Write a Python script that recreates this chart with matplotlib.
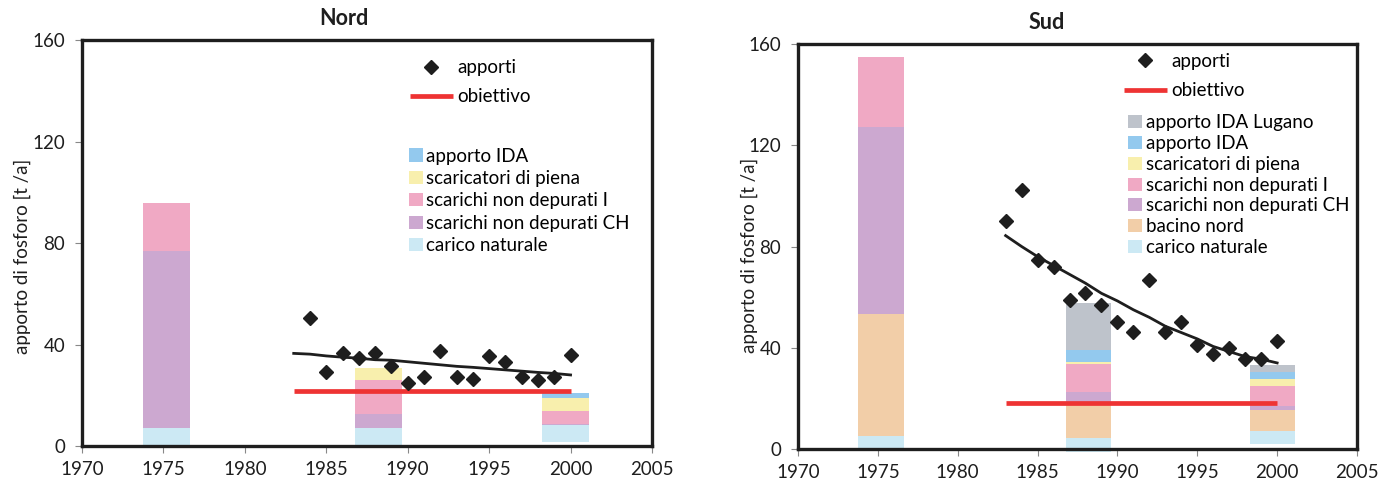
import matplotlib
matplotlib.use("Agg")
import matplotlib.pyplot as plt
from matplotlib.lines import Line2D
from matplotlib.patches import Patch

plt.rcParams["font.family"] = ["Lato", "DejaVu Sans"]

# bar positions (years) shared by both basins
bar_x = [1975.2, 1988.2, 1999.7]
bar_width = 2.85

# Nord basin: stacked loads [t/a], bottom layer first
nord_base = [0, 0, 1.4]
nord_carico_naturale = [7.0, 7.0, 6.7]
nord_ch = [69.7, 5.6, 0.6]
nord_i = [19.0, 13.5, 5.2]
nord_scaricatori = [0, 4.6, 4.9]
nord_ida = [0, 0, 2.0]

# Sud basin: stacked loads [t/a], bottom layer first
sud_base = [0, -1.2, 2.0]
sud_carico_naturale = [5.0, 5.7, 5.2]
sud_bacino_nord = [48.4, 12.9, 8.2]
sud_ch = [73.9, 5.2, 1.7]
sud_i = [27.4, 11.0, 7.8]
sud_scaricatori = [0, 0.9, 2.6]
sud_ida = [0, 4.6, 3.0]
sud_ida_lugano = [0, 18.4, 2.7]

# measured yearly inputs and smoothed trend
years = list(range(1983, 2001))
nord_apporti = [None, 50.3, 29.3, 36.6, 34.6, 36.6, 31.4, 24.8, 27.3, 37.3,
                27.3, 26.6, 35.3, 33.0, 27.3, 26.0, 27.3, 36.0]
nord_trend = [36.5, 36.2, 35.5, 35.0, 34.6, 34.0, 33.8, 33.2, 32.6, 32.0,
              31.4, 31.0, 30.5, 30.0, 29.5, 29.0, 28.6, 28.0]
sud_apporti = [89.9, 102.2, 74.5, 72.0, 58.8, 61.7, 56.9, 50.1, 46.3, 66.8,
               46.3, 50.1, 41.0, 37.7, 40.0, 35.4, 35.4, 42.8]
sud_trend = [84.3, 80.0, 76.0, 72.5, 69.0, 65.5, 61.5, 58.5, 55.0, 52.0,
             48.5, 46.0, 43.5, 40.5, 38.5, 36.5, 35.5, 34.0]

nord_obiettivo = 21.8
sud_obiettivo = 18.0

C_NAT = "#cce9f4"
C_BAC = "#f2cea8"
C_CH = "#cca8d0"
C_I = "#f0a9c4"
C_SCA = "#f8efad"
C_IDA = "#93c9ee"
C_LUG = "#bec3cb"
RED = "#ee3333"
INK = "#1e1e1e"

nord_layers = [
    (nord_carico_naturale, C_NAT, "carico naturale"),
    (nord_ch, C_CH, "scarichi non depurati CH"),
    (nord_i, C_I, "scarichi non depurati I"),
    (nord_scaricatori, C_SCA, "scaricatori di piena"),
    (nord_ida, C_IDA, "apporto IDA"),
]
sud_layers = [
    (sud_carico_naturale, C_NAT, "carico naturale"),
    (sud_bacino_nord, C_BAC, "bacino nord"),
    (sud_ch, C_CH, "scarichi non depurati CH"),
    (sud_i, C_I, "scarichi non depurati I"),
    (sud_scaricatori, C_SCA, "scaricatori di piena"),
    (sud_ida, C_IDA, "apporto IDA"),
    (sud_ida_lugano, C_LUG, "apporto IDA Lugano"),
]


def draw_panel(ax, title, title_xy, base, layers, apporti, trend, target,
               leg1_xy, leg2_xy, leg2_spacing, ylabel_xy):
    bottom = list(base)
    for heights, color, label in layers:
        ax.bar(bar_x, heights, bar_width, bottom=bottom, color=color,
               linewidth=0, zorder=1, clip_on=False)
        bottom = [b + h for b, h in zip(bottom, heights)]

    ax.plot([years[0], years[-1]], [target, target], color=RED, lw=3.4,
            solid_capstyle="butt", zorder=2)
    ax.plot(years, trend, color=INK, lw=2.0, zorder=3)
    pts = [(y, v) for y, v in zip(years, apporti) if v is not None]
    ax.plot([p[0] for p in pts], [p[1] for p in pts], "D", color=INK,
            ms=7, zorder=4)

    ax.set_xlim(1970, 2005)
    ax.set_ylim(0, 160)
    ax.set_xticks(range(1970, 2006, 5))
    ax.set_yticks(range(0, 161, 40))
    ax.tick_params(direction="out", length=5, width=0.8, color="#888888",
                   labelsize=13.5, labelcolor=INK)
    ax.tick_params(axis="x", pad=6)
    ax.tick_params(axis="y", pad=7)
    for s in ax.spines.values():
        s.set_linewidth(2.4)
        s.set_color(INK)
        s.set_zorder(5)

    ax.set_ylabel("apporto di fosforo [t /a]", fontsize=13.5, color=INK)
    ax.yaxis.set_label_coords(*ylabel_xy)
    ax.text(title_xy[0], title_xy[1], title, transform=ax.transAxes,
            ha="center", va="center", fontsize=15.5, fontweight="bold",
            color=INK)

    h1 = [Line2D([], [], marker="D", ls="none", color=INK, ms=7),
          Line2D([], [], color=RED, lw=3.4, solid_capstyle="butt")]
    leg1 = ax.legend(h1, ["apporti", "obiettivo"], loc="upper left",
                     bbox_to_anchor=leg1_xy, frameon=False, fontsize=13.5,
                     handlelength=2.3, handletextpad=0.25, labelspacing=0.65,
                     borderpad=0, borderaxespad=0)
    ax.add_artist(leg1)

    h2 = [Patch(facecolor=c, linewidth=0) for _, c, _ in layers[::-1]]
    l2 = [lab for _, _, lab in layers[::-1]]
    ax.legend(h2, l2, loc="upper left", bbox_to_anchor=leg2_xy,
              frameon=False, fontsize=13.5, handlelength=0.75,
              handleheight=0.7, handletextpad=0.2,
              labelspacing=leg2_spacing, borderpad=0, borderaxespad=0)


fig = plt.figure(figsize=(13.84, 4.83), dpi=100)
ax1 = fig.add_axes([82 / 1384, 1 - 446 / 483, 570 / 1384, 406 / 483])
ax2 = fig.add_axes([798 / 1384, 1 - 449 / 483, 559 / 1384, 405 / 483])

draw_panel(ax1, "Nord", (0.460, 1.054), nord_base, nord_layers,
           nord_apporti, nord_trend, nord_obiettivo,
           (0.575, 0.953), (0.573, 0.735), 0.29, (-0.09, 0.467))
draw_panel(ax2, "Sud", (0.445, 1.054), sud_base, sud_layers,
           sud_apporti, sud_trend, sud_obiettivo,
           (0.583, 0.978), (0.591, 0.826), 0.2, (-0.072, 0.477))

fig.savefig("out.png", dpi=100)
